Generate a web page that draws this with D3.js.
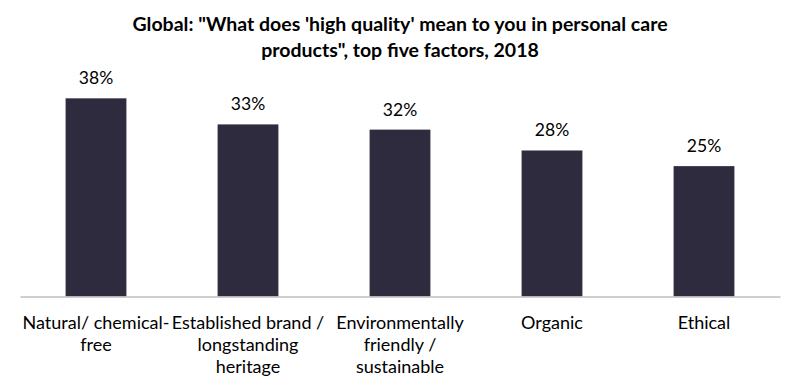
<!DOCTYPE html>
<html>
<head>
<meta charset="utf-8">
<script src="https://cdn.jsdelivr.net/npm/d3@7"></script>
<style>
body{margin:0;background:#fff;}
text{font-family:Lato,"Open Sans",sans-serif;fill:#000;}
.title{font-weight:bold;font-size:19.5px;}
.value{font-size:17.5px;}
.cat{font-size:18px;}
</style>
</head>
<body>
<svg id="chart"></svg>
<script>
var titleLines = ["Global: \"What does 'high quality' mean to you in personal care",
                  "products\", top five factors, 2018"];
var categories = ["Natural/ chemical-free","Established brand / longstanding heritage",
                  "Environmentally friendly / sustainable","Organic","Ethical"];
var categoryLines = [["Natural/ chemical-","free"],
                     ["Established brand /","longstanding","heritage"],
                     ["Environmentally","friendly /","sustainable"],
                     ["Organic"],
                     ["Ethical"]];
var values = [38,33,32,28,25];

var screen = {width:800,height:390};
var margins = {left:20,right:20,base:296.5};

var svg = d3.select("#chart")
    .attr("width",screen.width)
    .attr("height",screen.height);

var xScale = d3.scaleBand()
    .domain(categories)
    .range([margins.left,screen.width-margins.right])
    .paddingInner(0.6)
    .paddingOuter(0.3);

var yScale = d3.scaleLinear()
    .domain([0,40])
    .range([margins.base,margins.base-208.6]);

// title
svg.append("g")
    .selectAll("text")
    .data(titleLines)
    .enter()
    .append("text")
    .classed("title",true)
    .attr("text-anchor","middle")
    .attr("x",400)
    .attr("y",function(d,i){return 31+i*26;})
    .text(function(d){return d;});

// bars
svg.append("g")
    .selectAll("rect")
    .data(values)
    .enter()
    .append("rect")
    .attr("x",function(d,i){return xScale(categories[i]);})
    .attr("y",function(d){return yScale(d);})
    .attr("width",xScale.bandwidth())
    .attr("height",function(d){return yScale(0)-yScale(d);})
    .attr("fill","#2f2b3e");

// axis line
var xAxis = d3.axisBottom(xScale).tickSize(0).tickFormat("");
var axis = svg.append("g")
    .attr("transform","translate(0,"+margins.base+")")
    .call(xAxis);
axis.select(".domain").attr("stroke","#bfbfbf").attr("stroke-width",1.5);

// value labels
svg.append("g")
    .selectAll("text")
    .data(values)
    .enter()
    .append("text")
    .classed("value",true)
    .attr("text-anchor","middle")
    .attr("x",function(d,i){return xScale(categories[i])+xScale.bandwidth()/2;})
    .attr("y",function(d){return yScale(d)-14;})
    .text(function(d){return d+"%";});

// category labels
var cats = svg.append("g")
    .selectAll("text")
    .data(categoryLines)
    .enter()
    .append("text")
    .classed("cat",true)
    .attr("text-anchor","middle")
    .attr("x",function(d,i){return xScale(categories[i])+xScale.bandwidth()/2;})
    .attr("y",329);
cats.selectAll("tspan")
    .data(function(d){return d;})
    .enter()
    .append("tspan")
    .attr("x",function(){return d3.select(this.parentNode).attr("x");})
    .attr("dy",function(d,i){return i===0?0:22;})
    .text(function(d){return d;});
</script>
</body>
</html>
